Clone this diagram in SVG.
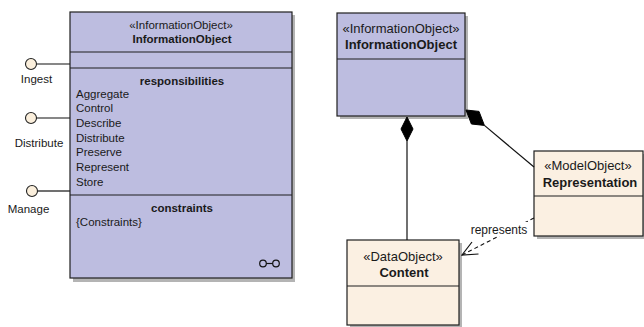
<svg xmlns="http://www.w3.org/2000/svg" width="644" height="327" viewBox="0 0 644 327">
  <style>
    .shadow { fill: #b4b4b4; }
    .purple { fill: #bdbde0; stroke: #1e1e1e; stroke-width: 1.2; }
    .beige { fill: #fbf0e2; stroke: #1e1e1e; stroke-width: 1.2; }
    .div { stroke: #1e1e1e; stroke-width: 1.2; fill: none; }
    .t { font-family: "Liberation Sans", Arial, sans-serif; fill: #1a1a1a; }
    .s { font-size: 11.5px; }
    .m { font-size: 13px; }
    .b { font-weight: bold; }
    .c { text-anchor: middle; }
    .line { stroke: #111; stroke-width: 1.2; fill: none; }
    .dash { stroke: #111; stroke-width: 1.1; fill: none; stroke-dasharray: 4 3; }
    .lolli { fill: #fbefdc; stroke: #222; stroke-width: 1.1; }
  </style>

  <!-- provided interfaces -->
  <g id="iface-ingest">
    <line class="line" x1="37" y1="64" x2="70" y2="64"/>
    <circle class="lolli" cx="31" cy="64" r="5.5"/>
    <text class="t s c" x="36.5" y="83">Ingest</text>
  </g>
  <g id="iface-distribute">
    <line class="line" x1="37" y1="118" x2="70" y2="118"/>
    <circle class="lolli" cx="31" cy="118" r="5.5"/>
    <text class="t s c" x="39" y="147">Distribute</text>
  </g>
  <g id="iface-manage">
    <line class="line" x1="38" y1="191" x2="70" y2="191"/>
    <circle class="lolli" cx="32" cy="191" r="5.5"/>
    <text class="t s c" x="28.5" y="213">Manage</text>
  </g>

  <!-- detailed InformationObject class -->
  <g id="info-object-detail">
    <rect class="shadow" x="73" y="15" width="222" height="267"/>
    <rect class="purple" x="70" y="12" width="222" height="266"/>
    <line class="div" x1="70" y1="52" x2="292" y2="52"/>
    <line class="div" x1="70" y1="68" x2="292" y2="68"/>
    <line class="div" x1="70" y1="195" x2="292" y2="195"/>
    <text class="t s c" x="181" y="29">«InformationObject»</text>
    <text class="t s c b" x="182" y="43">InformationObject</text>
    <text class="t s c b" x="182" y="85">responsibilities</text>
    <text class="t s" x="76" y="98">Aggregate</text>
    <text class="t s" x="76" y="112">Control</text>
    <text class="t s" x="76" y="127">Describe</text>
    <text class="t s" x="76" y="142">Distribute</text>
    <text class="t s" x="76" y="156">Preserve</text>
    <text class="t s" x="76" y="171">Represent</text>
    <text class="t s" x="76" y="186">Store</text>
    <text class="t s c b" x="182" y="212">constraints</text>
    <text class="t s" x="76" y="226">{Constraints}</text>
    <!-- composite-structure glyph -->
    <g class="line" stroke-width="1">
      <circle cx="263" cy="263.5" r="3.3"/>
      <circle cx="276" cy="263.5" r="3.3"/>
      <line x1="266.3" y1="263.5" x2="272.7" y2="263.5"/>
    </g>
  </g>

  <!-- compact InformationObject class -->
  <g id="info-object">
    <rect class="shadow" x="340" y="16" width="128" height="103"/>
    <rect class="purple" x="337" y="13" width="128" height="103"/>
    <line class="div" x1="337" y1="59" x2="465" y2="59"/>
    <text class="t m c" x="401" y="32.5">«InformationObject»</text>
    <text class="t m c b" x="401" y="48.5">InformationObject</text>
  </g>

  <!-- Representation class -->
  <g id="representation">
    <rect class="shadow" x="537" y="154" width="110" height="85"/>
    <rect class="beige" x="534" y="151" width="109" height="85"/>
    <line class="div" x1="534" y1="196" x2="643" y2="196"/>
    <text class="t m c" x="588" y="169.5">«ModelObject»</text>
    <text class="t m c b" x="590" y="186.5">Representation</text>
  </g>

  <!-- Content class -->
  <g id="content">
    <rect class="shadow" x="350" y="243" width="112" height="86"/>
    <rect class="beige" x="347" y="240" width="112" height="85"/>
    <line class="div" x1="347" y1="286" x2="459" y2="286"/>
    <text class="t m c" x="403" y="260.5">«DataObject»</text>
    <text class="t m c b" x="404" y="276.5">Content</text>
  </g>

  <!-- connectors -->
  <g id="connectors">
    <!-- composition: InformationObject to Content -->
    <line class="line" x1="407" y1="141" x2="407" y2="240"/>
    <polygon points="407,117 413,129 407,141 401,129" fill="#000" stroke="#000" stroke-width="1"/>
    <!-- composition: InformationObject to Representation -->
    <line class="line" x1="484.4" y1="125.4" x2="534" y2="167"/>
    <polygon points="466,110 479,111.4 484.4,125.4 471.4,124" fill="#000" stroke="#000" stroke-width="1"/>
    <!-- dependency: Representation represents Content -->
    <line class="dash" x1="534" y1="218" x2="462" y2="255"/>
    <polyline class="line" stroke-width="1.1" points="472,242 462,255 478.5,254"/>
    <rect x="469" y="222" width="60" height="14" fill="#ffffff"/>
    <text class="t c" font-size="12px" x="499" y="233.5">represents</text>
  </g>
</svg>
